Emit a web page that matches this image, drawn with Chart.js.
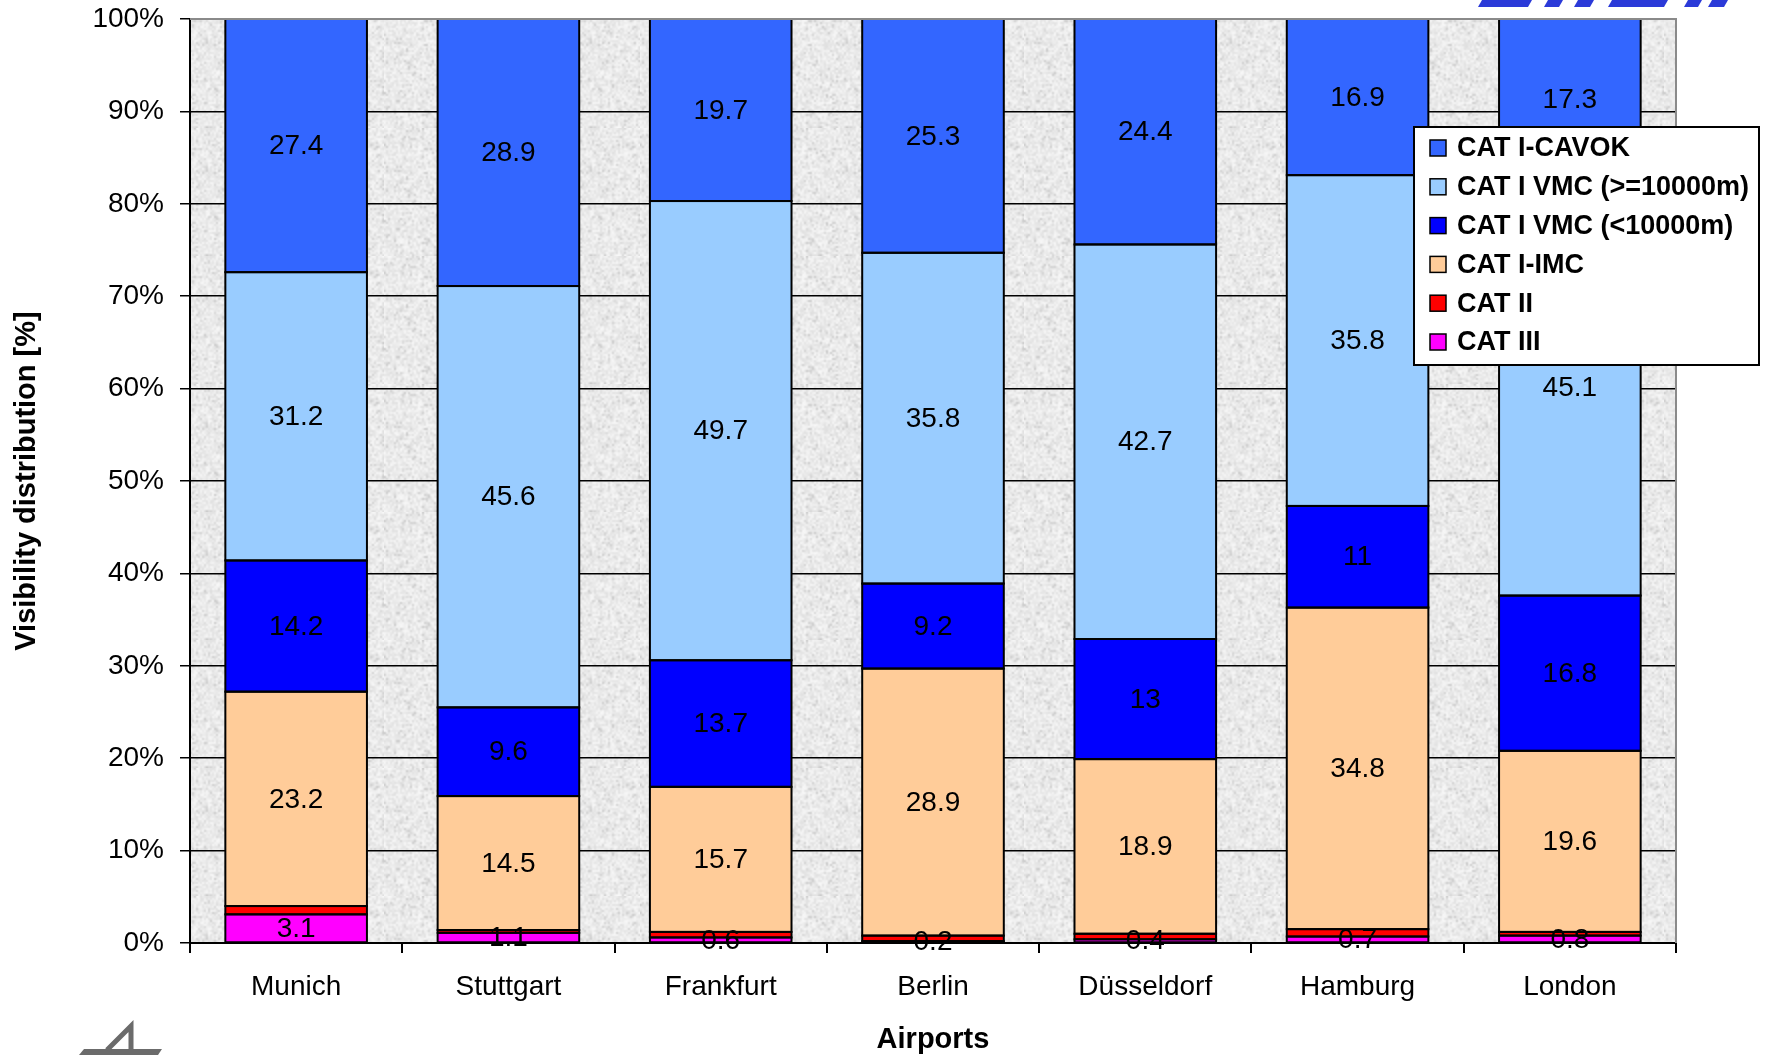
<!DOCTYPE html>
<html>
<head>
<meta charset="utf-8">
<script src="https://cdn.jsdelivr.net/npm/chart.js@4/dist/chart.umd.min.js"></script>
<style>
  html, body { margin: 0; padding: 0; background: #fff; }
  #wrap { width: 1766px; height: 1055px; }
</style>
</head>
<body>
<div id="wrap"><canvas id="c" width="1766" height="1055"></canvas></div>
<script>
// Airports and visibility category shares (%), bottom of stack first
const airports = ['Munich', 'Stuttgart', 'Frankfurt', 'Berlin', 'Düsseldorf', 'Hamburg', 'London'];
const catIII   = [3.1, 1.1, 0.6, 0.2, 0.4, 0.7, 0.8];
const catII    = [0.9, 0.3, 0.6, 0.6, 0.6, 0.8, 0.4];
const catIImc  = [23.2, 14.5, 15.7, 28.9, 18.9, 34.8, 19.6];
const vmcLow   = [14.2, 9.6, 13.7, 9.2, 13, 11, 16.8];
const vmcHigh  = [31.2, 45.6, 49.7, 35.8, 42.7, 35.8, 45.1];
const cavok    = [27.4, 28.9, 19.7, 25.3, 24.4, 16.9, 17.3];
const yTicks   = [0, 10, 20, 30, 40, 50, 60, 70, 80, 90, 100];

const FONT = "'Liberation Sans', Arial, sans-serif";

// speckled grey plot background
function makeGranite() {
  const n = 64;
  const src = document.createElement('canvas');
  src.width = src.height = n;
  const g = src.getContext('2d');
  const img = g.createImageData(n, n);
  let s = 20240601;
  const rnd = () => (s = (Math.imul(s, 1664525) + 1013904223) >>> 0) / 4294967296;
  for (let i = 0; i < n * n; i++) {
    let v = 236 + Math.round((rnd() - 0.5) * 24);
    if (rnd() < 0.10) v -= 24;
    img.data[i * 4] = img.data[i * 4 + 1] = img.data[i * 4 + 2] = v;
    img.data[i * 4 + 3] = 255;
  }
  g.putImageData(img, 0, 0);
  const big = document.createElement('canvas');
  big.width = big.height = n * 2;
  const bg = big.getContext('2d');
  bg.imageSmoothingEnabled = true;
  bg.drawImage(src, 0, 0, n * 2, n * 2);
  return big;
}
const graniteTile = makeGranite();

const plotBackground = {
  id: 'plotBackground',
  beforeDraw(chart) {
    const { ctx, chartArea: a } = chart;
    ctx.save();
    ctx.fillStyle = ctx.createPattern(graniteTile, 'repeat');
    ctx.fillRect(a.left, a.top, a.right - a.left, a.bottom - a.top);
    ctx.restore();
  },
  afterDraw(chart) {
    const { ctx, chartArea: a } = chart;
    ctx.save();
    // grey frame on top and right of plot area
    ctx.strokeStyle = '#8a8a8a';
    ctx.lineWidth = 2;
    ctx.beginPath();
    ctx.moveTo(a.left, a.top);
    ctx.lineTo(a.right, a.top);
    ctx.lineTo(a.right, a.bottom);
    ctx.stroke();
    ctx.restore();
  }
};

// black outlines centred on each segment edge, then value labels
const segmentLabels = {
  id: 'segmentLabels',
  afterDatasetsDraw(chart) {
    const { ctx } = chart;
    ctx.save();
    ctx.strokeStyle = '#000';
    ctx.lineWidth = 2;
    chart.data.datasets.forEach((ds, di) => {
      chart.getDatasetMeta(di).data.forEach(el => {
        ctx.strokeRect(el.x - el.width / 2, el.y, el.width, el.base - el.y);
      });
    });
    ctx.font = '28px ' + FONT;
    ctx.fillStyle = '#000';
    ctx.textAlign = 'center';
    ctx.textBaseline = 'middle';
    chart.data.datasets.forEach((ds, di) => {
      if (!ds.showValues) return;
      const meta = chart.getDatasetMeta(di);
      meta.data.forEach((el, i) => {
        const y = (el.y + el.base) / 2;
        ctx.fillText(String(ds.data[i]), el.x, y + 1);
      });
    });
    ctx.restore();
  }
};

// boxed legend overlapping the right of the plot
const boxLegend = {
  id: 'boxLegend',
  afterDraw(chart) {
    const { ctx } = chart;
    const x0 = 1414, y0 = 127, w = 345, h = 238;
    ctx.save();
    ctx.fillStyle = '#fff';
    ctx.fillRect(x0, y0, w, h);
    ctx.strokeStyle = '#000';
    ctx.lineWidth = 2;
    ctx.strokeRect(x0, y0, w, h);
    ctx.font = 'bold 27px ' + FONT;
    ctx.textBaseline = 'middle';
    ctx.textAlign = 'left';
    const items = chart.data.datasets.slice().reverse();
    items.forEach((ds, i) => {
      const cy = y0 + 21 + i * 38.8;
      ctx.fillStyle = ds.backgroundColor;
      ctx.fillRect(x0 + 16, cy - 8, 16, 16);
      ctx.lineWidth = 1.5;
      ctx.strokeStyle = '#000';
      ctx.strokeRect(x0 + 16, cy - 8, 16, 16);
      ctx.fillStyle = '#000';
      ctx.fillText(ds.label, x0 + 43, cy + 1);
    });
    ctx.restore();
  }
};

// corner marks of the page
const cornerMarks = {
  id: 'cornerMarks',
  afterDraw(chart) {
    const { ctx } = chart;
    ctx.save();
    ctx.fillStyle = '#2b3ad8';
    const pieces = [[1482, 1532], [1548, 1563], [1578, 1594], [1612, 1668], [1688, 1702], [1712, 1728]];
    pieces.forEach(([a, b]) => {
      ctx.beginPath();
      ctx.moveTo(a - 4, 7);
      ctx.lineTo(b - 4, 7);
      ctx.lineTo(b, 0);
      ctx.lineTo(a, 0);
      ctx.closePath();
      ctx.fill();
    });
    ctx.fillStyle = '#6b6b6b';
    ctx.strokeStyle = '#6b6b6b';
    ctx.beginPath();
    ctx.moveTo(84, 1049); ctx.lineTo(162, 1049); ctx.lineTo(158, 1055); ctx.lineTo(79, 1055);
    ctx.closePath(); ctx.fill();
    ctx.lineWidth = 5;
    ctx.beginPath();
    ctx.moveTo(107, 1050); ctx.lineTo(131, 1026); ctx.lineTo(131, 1050);
    ctx.stroke();
    ctx.restore();
  }
};

const seriesDefs = [
  { label: 'CAT III', data: catIII, color: '#FF00FF', showValues: true },
  { label: 'CAT II', data: catII, color: '#FF0000', showValues: false },
  { label: 'CAT I-IMC', data: catIImc, color: '#FFCC99', showValues: true },
  { label: 'CAT I VMC (<10000m)', data: vmcLow, color: '#0000FF', showValues: true },
  { label: 'CAT I VMC (>=10000m)', data: vmcHigh, color: '#99CCFF', showValues: true },
  { label: 'CAT I-CAVOK', data: cavok, color: '#3366FF', showValues: true }
];

new Chart(document.getElementById('c'), {
  type: 'bar',
  data: {
    labels: airports,
    datasets: seriesDefs.map(d => ({
      label: d.label,
      data: d.data,
      backgroundColor: d.color,
      borderWidth: 0,
      showValues: d.showValues,
      categoryPercentage: 1,
      barPercentage: 0.667
    }))
  },
  options: {
    responsive: false,
    animation: false,
    devicePixelRatio: 1,
    layout: { padding: { left: 0, top: 19, right: 90, bottom: 0 } },
    plugins: { legend: { display: false }, tooltip: { enabled: false } },
    scales: {
      x: {
        stacked: true,
        afterFit: s => { s.height = 112; s.paddingLeft = 0; s.paddingRight = 0; },
        border: { color: '#000', width: 2 },
        grid: { offset: true, drawOnChartArea: false, drawTicks: true, tickLength: 10, color: '#000', lineWidth: 2 },
        ticks: { color: '#000', font: { family: FONT, size: 28 }, padding: 17, maxRotation: 0 },
        title: { display: true, text: 'Airports', color: '#000', font: { family: FONT, size: 29, weight: 'bold' }, padding: { top: 0, bottom: -2 } }
      },
      y: {
        stacked: true,
        min: 0,
        max: 100,
        afterFit: s => { s.width = 190; s.paddingTop = 0; s.paddingBottom = 0; },
        afterBuildTicks: s => { s.ticks = yTicks.map(v => ({ value: v })); },
        border: { color: '#000', width: 2 },
        grid: {
          color: c => (c.tick && c.tick.value === 100 ? '#8a8a8a' : '#000'),
          tickColor: '#000',
          lineWidth: 1.5,
          tickLength: 10
        },
        ticks: { color: '#000', font: { family: FONT, size: 28 }, padding: 16, callback: v => v + '%' },
        title: { display: true, text: 'Visibility distribution [%]', color: '#000', font: { family: FONT, size: 29, weight: 'bold' }, padding: { top: 10, bottom: 0 } }
      }
    }
  },
  plugins: [plotBackground, segmentLabels, boxLegend, cornerMarks]
});
</script>
</body>
</html>
